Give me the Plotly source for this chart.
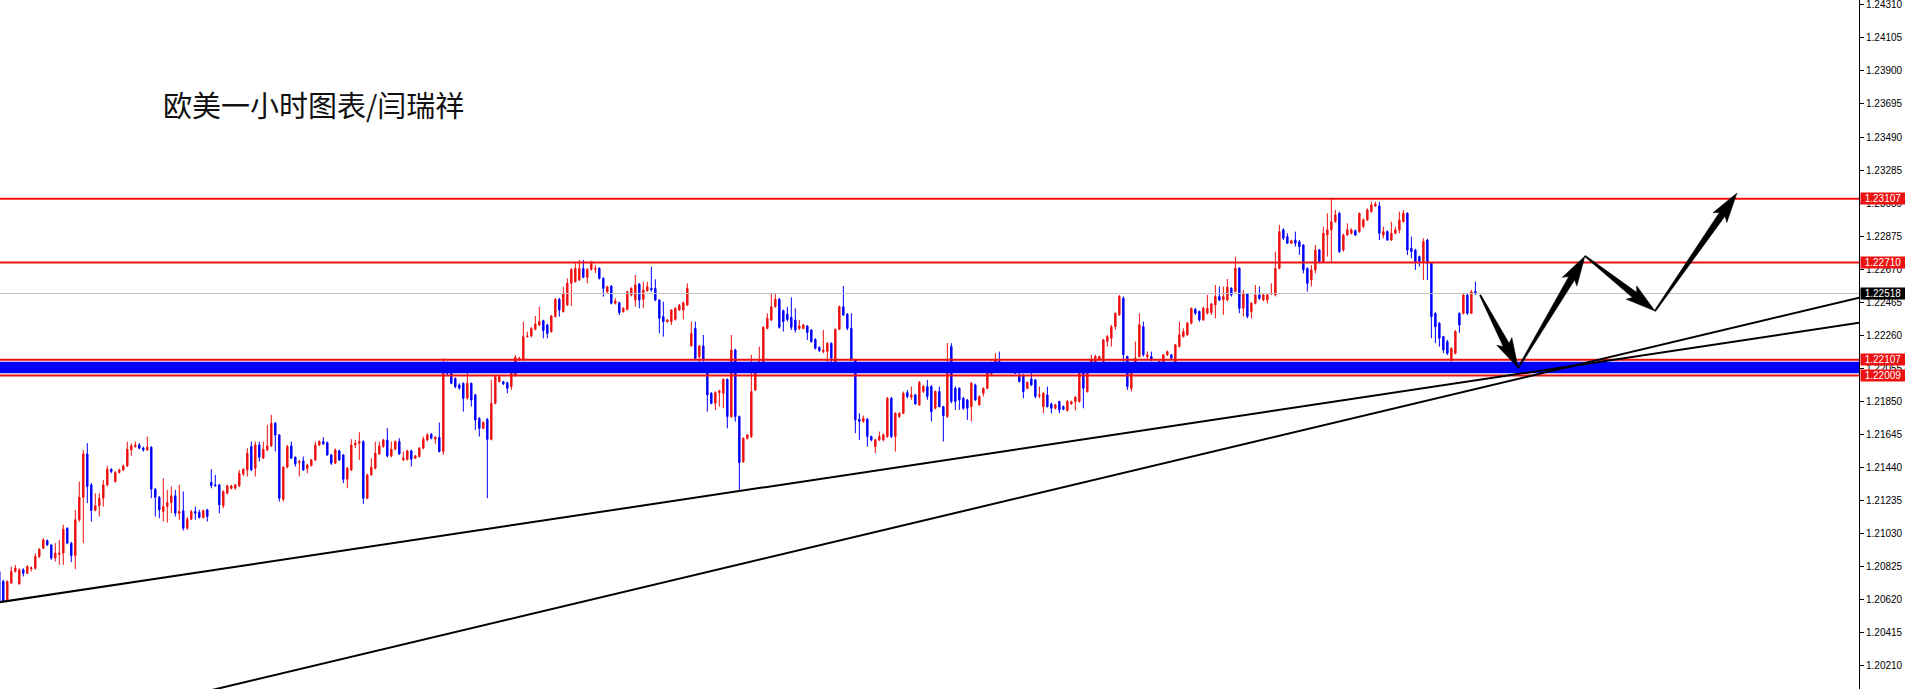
import math
import plotly.graph_objects as go

# ---------------- data (EURUSD H1, bars numbered from the left edge) ----------------
bar_start = -1

opens = [
    1.20791, 1.20729, 1.20615, 1.20719, 1.20791, 1.20714, 1.20801, 1.20780, 1.20808, 1.20811,
    1.20884, 1.20936, 1.20983, 1.20956, 1.20874, 1.20897, 1.20905, 1.21060, 1.20967, 1.20890,
    1.21112, 1.21252, 1.21521, 1.21329, 1.21170, 1.21199, 1.21246, 1.21329, 1.21426, 1.21350,
    1.21406, 1.21422, 1.21447, 1.21546, 1.21567, 1.21577, 1.21557, 1.21546, 1.21563, 1.21302,
    1.21252, 1.21163, 1.21194, 1.21219, 1.21261, 1.21153, 1.21168, 1.21060, 1.21116, 1.21163,
    1.21159, 1.21126, 1.21174, 1.21345, 1.21329, 1.21329, 1.21199, 1.21277, 1.21308, 1.21308,
    1.21323, 1.21397, 1.21422, 1.21567, 1.21432, 1.21577, 1.21495, 1.21546, 1.21571, 1.21712,
    1.21639, 1.21240, 1.21439, 1.21571, 1.21501, 1.21468, 1.21478, 1.21432, 1.21449, 1.21484,
    1.21577, 1.21598, 1.21590, 1.21515, 1.21464, 1.21540, 1.21515, 1.21364, 1.21422, 1.21577,
    1.21588, 1.21598, 1.21246, 1.21391, 1.21432, 1.21521, 1.21567, 1.21608, 1.21509, 1.21550,
    1.21598, 1.21484, 1.21488, 1.21540, 1.21495, 1.21505, 1.21557, 1.21608, 1.21644, 1.21613,
    1.21625, 1.21536, 1.22088, 1.22022, 1.21991, 1.21950, 1.21960, 1.21867, 1.21960, 1.21888,
    1.21742, 1.21680, 1.21736, 1.21612, 1.21836, 1.21970, 1.21970, 1.21964, 1.21939, 1.22012,
    1.22105, 1.22105, 1.22250, 1.22254, 1.22295, 1.22322, 1.22349, 1.22322, 1.22281, 1.22374,
    1.22482, 1.22405, 1.22446, 1.22581, 1.22591, 1.22602, 1.22674, 1.22618, 1.22668, 1.22668,
    1.22674, 1.22612, 1.22529, 1.22564, 1.22457, 1.22461, 1.22405, 1.22419, 1.22508, 1.22477,
    1.22577, 1.22482, 1.22535, 1.22550, 1.22550, 1.22477, 1.22374, 1.22343, 1.22343, 1.22357,
    1.22415, 1.22415, 1.22446, 1.22192, 1.22301, 1.22126, 1.22192, 1.22063, 1.21898, 1.21836,
    1.21902, 1.21898, 1.21985, 1.21753, 1.22167, 1.21753, 1.21473, 1.21618, 1.21629, 1.21919,
    1.22074, 1.22084, 1.22301, 1.22353, 1.22436, 1.22482, 1.22411, 1.22390, 1.22370, 1.22353,
    1.22301, 1.22301, 1.22316, 1.22291, 1.22233, 1.22183, 1.22157, 1.22157, 1.22208, 1.22063,
    1.22295, 1.22436, 1.22390, 1.22302, 1.22105, 1.21737, 1.21723, 1.21737, 1.21629, 1.21567,
    1.21609, 1.21609, 1.21629, 1.21867, 1.21629, 1.21754, 1.21774, 1.21902, 1.21874, 1.21888,
    1.21826, 1.21909, 1.21940, 1.21940, 1.21805, 1.21909, 1.21815, 1.21754, 1.22188, 1.21929,
    1.21929, 1.21867, 1.21857, 1.21815, 1.21950, 1.21826, 1.21898, 1.21929, 1.22018, 1.22085,
    1.22095, 1.22074, 1.22064, 1.22054, 1.22064, 1.22012, 1.22012, 1.21929, 1.21987, 1.21981,
    1.21882, 1.21815, 1.21888, 1.21832, 1.21805, 1.21847, 1.21815, 1.21791, 1.21832, 1.21847,
    1.21847, 1.22064, 1.21909, 1.22054, 1.22085, 1.22105, 1.22095, 1.22219, 1.22240, 1.22312,
    1.22385, 1.22488, 1.22126, 1.21929, 1.22074, 1.22126, 1.22312, 1.22126, 1.22126, 1.22064,
    1.22074, 1.22043, 1.22137, 1.22137, 1.22074, 1.22188, 1.22250, 1.22261, 1.22333, 1.22420,
    1.22406, 1.22354, 1.22395, 1.22399, 1.22447, 1.22499, 1.22478, 1.22478, 1.22550, 1.22530,
    1.22675, 1.22426, 1.22515, 1.22405, 1.22457, 1.22509, 1.22478, 1.22478, 1.22515, 1.22509,
    1.22674, 1.22913, 1.22871, 1.22830, 1.22850, 1.22840, 1.22819, 1.22674, 1.22602, 1.22664,
    1.22788, 1.22716, 1.22881, 1.22913, 1.22964, 1.23016, 1.22788, 1.22881, 1.22892, 1.22908,
    1.22902, 1.22933, 1.22975, 1.23026, 1.23062, 1.23062, 1.22881, 1.22902, 1.22850, 1.22892,
    1.22913, 1.22964, 1.23016, 1.22799, 1.22788, 1.22747, 1.22716, 1.22850, 1.22706, 1.22395,
    1.22333, 1.22250, 1.22218, 1.22105, 1.22146, 1.22395, 1.22395, 1.22508, 1.22395, 1.22530,
]

highs = [
    1.20800, 1.20739, 1.20735, 1.20822, 1.20832, 1.20811, 1.20811, 1.20830, 1.20822, 1.20905,
    1.20936, 1.20998, 1.20990, 1.20960, 1.20967, 1.20987, 1.21081, 1.21065, 1.20975, 1.21174,
    1.21350, 1.21546, 1.21588, 1.21340, 1.21277, 1.21277, 1.21360, 1.21447, 1.21432, 1.21415,
    1.21430, 1.21455, 1.21598, 1.21588, 1.21598, 1.21588, 1.21567, 1.21629, 1.21570, 1.21310,
    1.21260, 1.21370, 1.21298, 1.21319, 1.21298, 1.21329, 1.21288, 1.21130, 1.21174, 1.21194,
    1.21174, 1.21175, 1.21180, 1.21426, 1.21391, 1.21335, 1.21295, 1.21330, 1.21330, 1.21335,
    1.21422, 1.21432, 1.21557, 1.21598, 1.21598, 1.21598, 1.21598, 1.21702, 1.21764, 1.21720,
    1.21645, 1.21445, 1.21577, 1.21598, 1.21505, 1.21484, 1.21505, 1.21460, 1.21490, 1.21598,
    1.21605, 1.21625, 1.21598, 1.21520, 1.21555, 1.21548, 1.21520, 1.21440, 1.21613, 1.21608,
    1.21656, 1.21605, 1.21398, 1.21495, 1.21598, 1.21598, 1.21615, 1.21681, 1.21598, 1.21605,
    1.21619, 1.21536, 1.21548, 1.21548, 1.21515, 1.21565, 1.21629, 1.21650, 1.21650, 1.21632,
    1.21716, 1.22115, 1.22095, 1.22030, 1.21995, 1.21960, 1.21965, 1.22053, 1.21965, 1.21895,
    1.21750, 1.21725, 1.21745, 1.21981, 1.22010, 1.22012, 1.21975, 1.21970, 1.22090, 1.22136,
    1.22125, 1.22343, 1.22281, 1.22310, 1.22378, 1.22436, 1.22355, 1.22330, 1.22385, 1.22488,
    1.22490, 1.22560, 1.22612, 1.22675, 1.22705, 1.22726, 1.22726, 1.22675, 1.22722, 1.22695,
    1.22680, 1.22618, 1.22566, 1.22570, 1.22488, 1.22467, 1.22432, 1.22535, 1.22556, 1.22633,
    1.22583, 1.22591, 1.22591, 1.22684, 1.22606, 1.22483, 1.22467, 1.22360, 1.22420, 1.22432,
    1.22452, 1.22467, 1.22581, 1.22343, 1.22343, 1.22198, 1.22260, 1.22080, 1.21905, 1.21910,
    1.21920, 1.21990, 1.21990, 1.22260, 1.22175, 1.21760, 1.21625, 1.21645, 1.22136, 1.22090,
    1.22188, 1.22315, 1.22395, 1.22519, 1.22519, 1.22490, 1.22418, 1.22436, 1.22494, 1.22426,
    1.22353, 1.22330, 1.22322, 1.22297, 1.22240, 1.22190, 1.22291, 1.22215, 1.22215, 1.22301,
    1.22443, 1.22564, 1.22395, 1.22395, 1.22110, 1.21774, 1.21760, 1.21745, 1.21635, 1.21615,
    1.21660, 1.21648, 1.21875, 1.21875, 1.21780, 1.21780, 1.21909, 1.21919, 1.21940, 1.21895,
    1.21975, 1.21950, 1.21981, 1.21950, 1.21915, 1.21940, 1.21820, 1.22209, 1.22209, 1.21940,
    1.21935, 1.21875, 1.21862, 1.21968, 1.21958, 1.21885, 1.21935, 1.22050, 1.22095, 1.22147,
    1.22157, 1.22092, 1.22088, 1.22078, 1.22070, 1.22023, 1.22018, 1.21972, 1.22023, 1.21987,
    1.21940, 1.21905, 1.21940, 1.21840, 1.21832, 1.21852, 1.21822, 1.21857, 1.21852, 1.21880,
    1.22064, 1.22070, 1.22060, 1.22137, 1.22137, 1.22132, 1.22236, 1.22261, 1.22323, 1.22400,
    1.22509, 1.22500, 1.22132, 1.22092, 1.22219, 1.22395, 1.22343, 1.22157, 1.22157, 1.22092,
    1.22100, 1.22143, 1.22163, 1.22143, 1.22205, 1.22343, 1.22302, 1.22343, 1.22430, 1.22426,
    1.22412, 1.22437, 1.22509, 1.22460, 1.22571, 1.22561, 1.22561, 1.22608, 1.22557, 1.22747,
    1.22680, 1.22540, 1.22520, 1.22465, 1.22571, 1.22561, 1.22515, 1.22515, 1.22581, 1.22778,
    1.22944, 1.22923, 1.22892, 1.22852, 1.22902, 1.22850, 1.22825, 1.22680, 1.22695, 1.22819,
    1.22795, 1.22933, 1.23016, 1.23109, 1.23037, 1.23026, 1.22890, 1.22954, 1.22923, 1.22915,
    1.23020, 1.22985, 1.23047, 1.23088, 1.23088, 1.23088, 1.22933, 1.22910, 1.22964, 1.22933,
    1.23026, 1.23037, 1.23022, 1.22871, 1.22795, 1.22753, 1.22861, 1.22857, 1.22712, 1.22400,
    1.22340, 1.22255, 1.22230, 1.22185, 1.22291, 1.22400, 1.22519, 1.22519, 1.22540, 1.22591,
]

lows = [
    1.20600, 1.20600, 1.20610, 1.20715, 1.20785, 1.20710, 1.20760, 1.20775, 1.20791, 1.20801,
    1.20874, 1.20930, 1.20950, 1.20863, 1.20853, 1.20832, 1.20832, 1.20960, 1.20849, 1.20805,
    1.21100, 1.20967, 1.21215, 1.21101, 1.21165, 1.21132, 1.21194, 1.21320, 1.21401, 1.21343,
    1.21400, 1.21415, 1.21440, 1.21509, 1.21560, 1.21550, 1.21536, 1.21540, 1.21246, 1.21132,
    1.21122, 1.21101, 1.21095, 1.21153, 1.21132, 1.21112, 1.21045, 1.21050, 1.21110, 1.21112,
    1.21120, 1.21120, 1.21101, 1.21308, 1.21319, 1.21153, 1.21184, 1.21270, 1.21300, 1.21300,
    1.21315, 1.21381, 1.21381, 1.21415, 1.21381, 1.21474, 1.21490, 1.21540, 1.21565, 1.21536,
    1.21225, 1.21225, 1.21432, 1.21490, 1.21443, 1.21381, 1.21415, 1.21401, 1.21443, 1.21478,
    1.21570, 1.21577, 1.21510, 1.21453, 1.21458, 1.21478, 1.21339, 1.21308, 1.21415, 1.21557,
    1.21484, 1.21211, 1.21240, 1.21385, 1.21425, 1.21515, 1.21560, 1.21500, 1.21500, 1.21545,
    1.21515, 1.21478, 1.21480, 1.21443, 1.21490, 1.21500, 1.21550, 1.21600, 1.21612, 1.21584,
    1.21530, 1.21515, 1.22010, 1.21955, 1.21929, 1.21920, 1.21784, 1.21860, 1.21815, 1.21670,
    1.21629, 1.21675, 1.21246, 1.21605, 1.21830, 1.21965, 1.21950, 1.21898, 1.21919, 1.22001,
    1.22100, 1.22100, 1.22245, 1.22245, 1.22290, 1.22316, 1.22239, 1.22239, 1.22275, 1.22370,
    1.22374, 1.22400, 1.22440, 1.22440, 1.22585, 1.22595, 1.22612, 1.22581, 1.22660, 1.22643,
    1.22605, 1.22498, 1.22520, 1.22450, 1.22450, 1.22384, 1.22400, 1.22413, 1.22500, 1.22436,
    1.22426, 1.22426, 1.22530, 1.22529, 1.22470, 1.22270, 1.22250, 1.22336, 1.22322, 1.22350,
    1.22410, 1.22357, 1.22440, 1.22190, 1.22105, 1.22032, 1.22095, 1.21784, 1.21830, 1.21794,
    1.21815, 1.21805, 1.21680, 1.21745, 1.21722, 1.21298, 1.21465, 1.21610, 1.21620, 1.21912,
    1.22068, 1.22078, 1.22295, 1.22346, 1.22430, 1.22300, 1.22281, 1.22343, 1.22291, 1.22275,
    1.22291, 1.22295, 1.22229, 1.22212, 1.22170, 1.22155, 1.22146, 1.22063, 1.22043, 1.22032,
    1.22290, 1.22378, 1.22290, 1.22100, 1.21650, 1.21609, 1.21715, 1.21567, 1.21600, 1.21526,
    1.21600, 1.21600, 1.21620, 1.21620, 1.21536, 1.21745, 1.21768, 1.21867, 1.21857, 1.21826,
    1.21820, 1.21900, 1.21857, 1.21723, 1.21798, 1.21810, 1.21598, 1.21745, 1.21836, 1.21795,
    1.21795, 1.21795, 1.21733, 1.21723, 1.21850, 1.21820, 1.21878, 1.21922, 1.22010, 1.22080,
    1.22074, 1.22068, 1.22058, 1.22033, 1.22018, 1.21965, 1.21867, 1.21922, 1.21943, 1.21867,
    1.21867, 1.21774, 1.21810, 1.21774, 1.21798, 1.21774, 1.21792, 1.21785, 1.21826, 1.21791,
    1.21840, 1.21805, 1.21902, 1.22048, 1.22078, 1.22100, 1.22088, 1.22188, 1.22188, 1.22292,
    1.22380, 1.22095, 1.21919, 1.21909, 1.22068, 1.22120, 1.22126, 1.22105, 1.22098, 1.22023,
    1.22068, 1.22033, 1.22130, 1.22110, 1.22068, 1.22182, 1.22245, 1.22255, 1.22326, 1.22385,
    1.22343, 1.22348, 1.22388, 1.22385, 1.22364, 1.22470, 1.22385, 1.22470, 1.22499, 1.22525,
    1.22395, 1.22375, 1.22364, 1.22364, 1.22450, 1.22478, 1.22470, 1.22457, 1.22509, 1.22500,
    1.22668, 1.22850, 1.22825, 1.22825, 1.22809, 1.22757, 1.22643, 1.22530, 1.22561, 1.22643,
    1.22706, 1.22710, 1.22747, 1.22716, 1.22958, 1.22770, 1.22778, 1.22875, 1.22885, 1.22875,
    1.22895, 1.22923, 1.22970, 1.23020, 1.23055, 1.22850, 1.22861, 1.22845, 1.22845, 1.22885,
    1.22892, 1.22958, 1.22757, 1.22737, 1.22664, 1.22685, 1.22602, 1.22602, 1.22240, 1.22209,
    1.22188, 1.22147, 1.22136, 1.22094, 1.22140, 1.22273, 1.22388, 1.22385, 1.22390, 1.22508,
]

closes = [
    1.20604, 1.20604, 1.20729, 1.20791, 1.20811, 1.20801, 1.20780, 1.20822, 1.20814, 1.20884,
    1.20929, 1.20987, 1.20956, 1.20874, 1.20905, 1.20905, 1.21054, 1.20967, 1.20890, 1.21112,
    1.21252, 1.21521, 1.21319, 1.21170, 1.21199, 1.21246, 1.21329, 1.21426, 1.21412, 1.21406,
    1.21422, 1.21447, 1.21550, 1.21571, 1.21577, 1.21557, 1.21546, 1.21563, 1.21302, 1.21252,
    1.21174, 1.21194, 1.21219, 1.21261, 1.21153, 1.21163, 1.21060, 1.21116, 1.21163, 1.21153,
    1.21126, 1.21168, 1.21132, 1.21325, 1.21323, 1.21205, 1.21288, 1.21323, 1.21323, 1.21329,
    1.21401, 1.21426, 1.21526, 1.21422, 1.21577, 1.21501, 1.21550, 1.21571, 1.21712, 1.21639,
    1.21246, 1.21439, 1.21567, 1.21495, 1.21459, 1.21474, 1.21422, 1.21453, 1.21484, 1.21577,
    1.21598, 1.21584, 1.21515, 1.21464, 1.21546, 1.21484, 1.21364, 1.21432, 1.21577, 1.21588,
    1.21598, 1.21246, 1.21391, 1.21439, 1.21526, 1.21571, 1.21608, 1.21509, 1.21550, 1.21598,
    1.21521, 1.21495, 1.21540, 1.21488, 1.21509, 1.21557, 1.21613, 1.21639, 1.21619, 1.21625,
    1.21536, 1.22088, 1.22022, 1.21960, 1.21939, 1.21930, 1.21867, 1.21960, 1.21856, 1.21732,
    1.21680, 1.21716, 1.21612, 1.21836, 1.22001, 1.22001, 1.21956, 1.21929, 1.22084, 1.22121,
    1.22115, 1.22250, 1.22254, 1.22301, 1.22328, 1.22343, 1.22287, 1.22270, 1.22378, 1.22482,
    1.22415, 1.22519, 1.22581, 1.22668, 1.22674, 1.22674, 1.22618, 1.22668, 1.22709, 1.22674,
    1.22612, 1.22550, 1.22560, 1.22457, 1.22471, 1.22399, 1.22426, 1.22529, 1.22550, 1.22571,
    1.22477, 1.22540, 1.22560, 1.22540, 1.22477, 1.22364, 1.22343, 1.22353, 1.22415, 1.22426,
    1.22446, 1.22461, 1.22550, 1.22270, 1.22115, 1.22192, 1.22105, 1.21888, 1.21836, 1.21902,
    1.21914, 1.21985, 1.21753, 1.22167, 1.21753, 1.21467, 1.21618, 1.21639, 1.21908, 1.22084,
    1.22094, 1.22308, 1.22364, 1.22436, 1.22482, 1.22308, 1.22343, 1.22357, 1.22308, 1.22291,
    1.22316, 1.22322, 1.22275, 1.22219, 1.22177, 1.22163, 1.22167, 1.22208, 1.22115, 1.22295,
    1.22436, 1.22384, 1.22301, 1.22105, 1.21733, 1.21723, 1.21743, 1.21629, 1.21609, 1.21609,
    1.21629, 1.21640, 1.21867, 1.21629, 1.21774, 1.21774, 1.21898, 1.21878, 1.21888, 1.21832,
    1.21965, 1.21940, 1.21878, 1.21784, 1.21909, 1.21815, 1.21758, 1.22074, 1.21847, 1.21847,
    1.21857, 1.21805, 1.21805, 1.21961, 1.21857, 1.21878, 1.21929, 1.22043, 1.22085, 1.22105,
    1.22085, 1.22085, 1.22081, 1.22070, 1.22023, 1.21971, 1.21909, 1.21965, 1.21950, 1.21878,
    1.21888, 1.21898, 1.21815, 1.21805, 1.21826, 1.21795, 1.21799, 1.21847, 1.21847, 1.21874,
    1.22054, 1.21929, 1.22054, 1.22105, 1.22126, 1.22126, 1.22230, 1.22250, 1.22312, 1.22395,
    1.22499, 1.22137, 1.21940, 1.22085, 1.22116, 1.22323, 1.22137, 1.22137, 1.22105, 1.22085,
    1.22095, 1.22137, 1.22157, 1.22116, 1.22199, 1.22261, 1.22281, 1.22333, 1.22426, 1.22395,
    1.22354, 1.22426, 1.22426, 1.22453, 1.22499, 1.22478, 1.22499, 1.22557, 1.22509, 1.22675,
    1.22426, 1.22519, 1.22375, 1.22457, 1.22509, 1.22488, 1.22509, 1.22509, 1.22519, 1.22674,
    1.22902, 1.22861, 1.22830, 1.22846, 1.22830, 1.22809, 1.22664, 1.22581, 1.22664, 1.22788,
    1.22716, 1.22892, 1.22913, 1.22964, 1.23006, 1.22778, 1.22881, 1.22913, 1.22913, 1.22881,
    1.23016, 1.22975, 1.23037, 1.23068, 1.23074, 1.22892, 1.22902, 1.22850, 1.22892, 1.22913,
    1.22975, 1.23016, 1.22788, 1.22778, 1.22716, 1.22716, 1.22840, 1.22706, 1.22374, 1.22312,
    1.22240, 1.22167, 1.22146, 1.22177, 1.22281, 1.22322, 1.22508, 1.22395, 1.22529, 1.22518,
]

n_bars = len(closes)
assert len(opens) == len(highs) == len(lows) == n_bars
bars = list(range(bar_start, bar_start + n_bars))

# horizontal levels
red_levels = [1.23107, 1.22710, 1.22107, 1.22009]
zone = [1.22022, 1.22094]          # blue support band
bid_price = 1.22518                # current bid line

# right price scale
tick_values = [1.20210, 1.20415, 1.20620, 1.20825, 1.21030, 1.21235, 1.21440, 1.21645,
               1.21850, 1.22055, 1.22260, 1.22465, 1.22670, 1.22875, 1.23080, 1.23285,
               1.23490, 1.23695, 1.23900, 1.24105, 1.24310]

# trend lines: (bar, price) anchor pairs
trend_lines = [
    ((-1.0, 1.20600), (464.0, 1.22336)),
    ((50.0, 1.20042), (464.0, 1.22492)),
]

# projected path (bar, price) for the drawn arrows
forecast_path = [(369.2, 1.22508), (378.7, 1.22055), (395.4, 1.22751),
                 (412.9, 1.22409), (433.4, 1.23142)]

title_text = "欧美一小时图表/闫瑞祥"

# ---------------- layout geometry ----------------
W, H = 1905, 689
M_R = 46
PLOT_W, PLOT_H = W - M_R, H
X_RANGE = [-0.825, 463.9]
Y_RANGE = [1.20061, 1.24341]

RED = "#ee1111"
BLUE = "#0000ff"
TICK_FONT = dict(family="Liberation Sans", size=10, color="black")


def to_px(xv, yv):
    px = (xv - X_RANGE[0]) / (X_RANGE[1] - X_RANGE[0]) * PLOT_W
    py = (Y_RANGE[1] - yv) / (Y_RANGE[1] - Y_RANGE[0]) * PLOT_H
    return px, py


def to_data(px, py):
    xv = X_RANGE[0] + px / PLOT_W * (X_RANGE[1] - X_RANGE[0])
    yv = Y_RANGE[1] - py / PLOT_H * (Y_RANGE[1] - Y_RANGE[0])
    return xv, yv


def arrow_shape(p0, p1, head_len=26, head_hw=8.5, neck_hw=3.4, tail_hw=0.7):
    x0, y0 = to_px(*p0)
    x1, y1 = to_px(*p1)
    dx, dy = x1 - x0, y1 - y0
    L = math.hypot(dx, dy)
    ux, uy = dx / L, dy / L
    nx, ny = -uy, ux
    bx, by = x1 - ux * head_len, y1 - uy * head_len
    cx, cy = bx - ux * 4, by - uy * 4
    pts = [
        (x0 + nx * tail_hw, y0 + ny * tail_hw),
        (bx + nx * neck_hw, by + ny * neck_hw),
        (cx + nx * head_hw, cy + ny * head_hw),
        (x1, y1),
        (cx - nx * head_hw, cy - ny * head_hw),
        (bx - nx * neck_hw, by - ny * neck_hw),
        (x0 - nx * tail_hw, y0 - ny * tail_hw),
    ]
    dpts = [to_data(px, py) for px, py in pts]
    path = "M " + " L ".join(f"{a:.4f},{b:.6f}" for a, b in dpts) + " Z"
    return dict(type="path", xref="x", yref="y", path=path,
                fillcolor="black", line=dict(color="black", width=0.5), layer="above")


fig = go.Figure()
fig.add_trace(go.Candlestick(
    x=bars, open=opens, high=highs, low=lows, close=closes,
    increasing=dict(line=dict(color=RED, width=1), fillcolor=RED),
    decreasing=dict(line=dict(color=BLUE, width=1), fillcolor=BLUE),
    whiskerwidth=0, showlegend=False, hoverinfo="skip",
))

shapes = []
# bid line
shapes.append(dict(type="line", xref="paper", yref="y", x0=0, x1=1, y0=bid_price, y1=bid_price,
                   line=dict(color="#c0c0c0", width=1), layer="above"))
# blue zone
shapes.append(dict(type="rect", xref="paper", yref="y", x0=0, x1=1, y0=zone[0], y1=zone[1],
                   fillcolor=BLUE, line=dict(width=0), layer="above"))
# red levels
for lv in red_levels:
    shapes.append(dict(type="line", xref="paper", yref="y", x0=0, x1=1, y0=lv, y1=lv,
                       line=dict(color=RED, width=2), layer="above"))
# trend lines
for (a, b) in trend_lines:
    shapes.append(dict(type="line", xref="x", yref="y", x0=a[0], y0=a[1], x1=b[0], y1=b[1],
                       line=dict(color="black", width=2), layer="above"))
# forecast arrows
for i in range(len(forecast_path) - 1):
    shapes.append(arrow_shape(forecast_path[i], forecast_path[i + 1]))

annotations = [
    dict(text=title_text, xref="paper", yref="paper", x=161 / PLOT_W, y=1 - 104 / PLOT_H,
         xanchor="left", yanchor="middle", showarrow=False,
         font=dict(family="Noto Sans CJK SC", size=29, color="#111111")),
]
# top scale label sits at the very edge of the chart; plotly drops it, so draw it explicitly
annotations.append(dict(text=f"{tick_values[-1]:.5f}", xref="paper", yref="y", x=1,
                        y=tick_values[-1], xanchor="left", yanchor="middle", xshift=5,
                        showarrow=False, font=TICK_FONT))
for lv in red_levels:
    annotations.append(dict(text=f"{lv:.5f}", xref="paper", yref="y", x=1, y=lv,
                            xanchor="left", yanchor="middle", xshift=1, showarrow=False,
                            bgcolor=RED, width=44, height=11, borderpad=0,
                            font=dict(family="Liberation Sans", size=10, color="white")))
annotations.append(dict(text=f"{bid_price:.5f}", xref="paper", yref="y", x=1, y=bid_price,
                        xanchor="left", yanchor="middle", xshift=1, showarrow=False,
                        bgcolor="black", width=44, height=11, borderpad=0,
                        font=dict(family="Liberation Sans", size=10, color="white")))

fig.update_layout(
    width=W, height=H,
    margin=dict(l=0, r=M_R, t=0, b=0, pad=0),
    paper_bgcolor="white", plot_bgcolor="white",
    boxgap=0.5,
    shapes=shapes, annotations=annotations,
    showlegend=False,
    xaxis=dict(range=X_RANGE, visible=False, rangeslider=dict(visible=False),
               showgrid=False, zeroline=False, fixedrange=True),
    yaxis=dict(range=Y_RANGE, side="right", showgrid=False, zeroline=False,
               showline=True, linecolor="black", linewidth=1,
               ticks="outside", ticklen=4, tickcolor="black",
               tickvals=tick_values, ticktext=[f"{v:.5f}" for v in tick_values],
               tickfont=TICK_FONT, fixedrange=True),
)

fig.write_html("out.html", config={"displayModeBar": False},
               post_script="document.body.style.margin='0';document.body.style.overflow='hidden';")
